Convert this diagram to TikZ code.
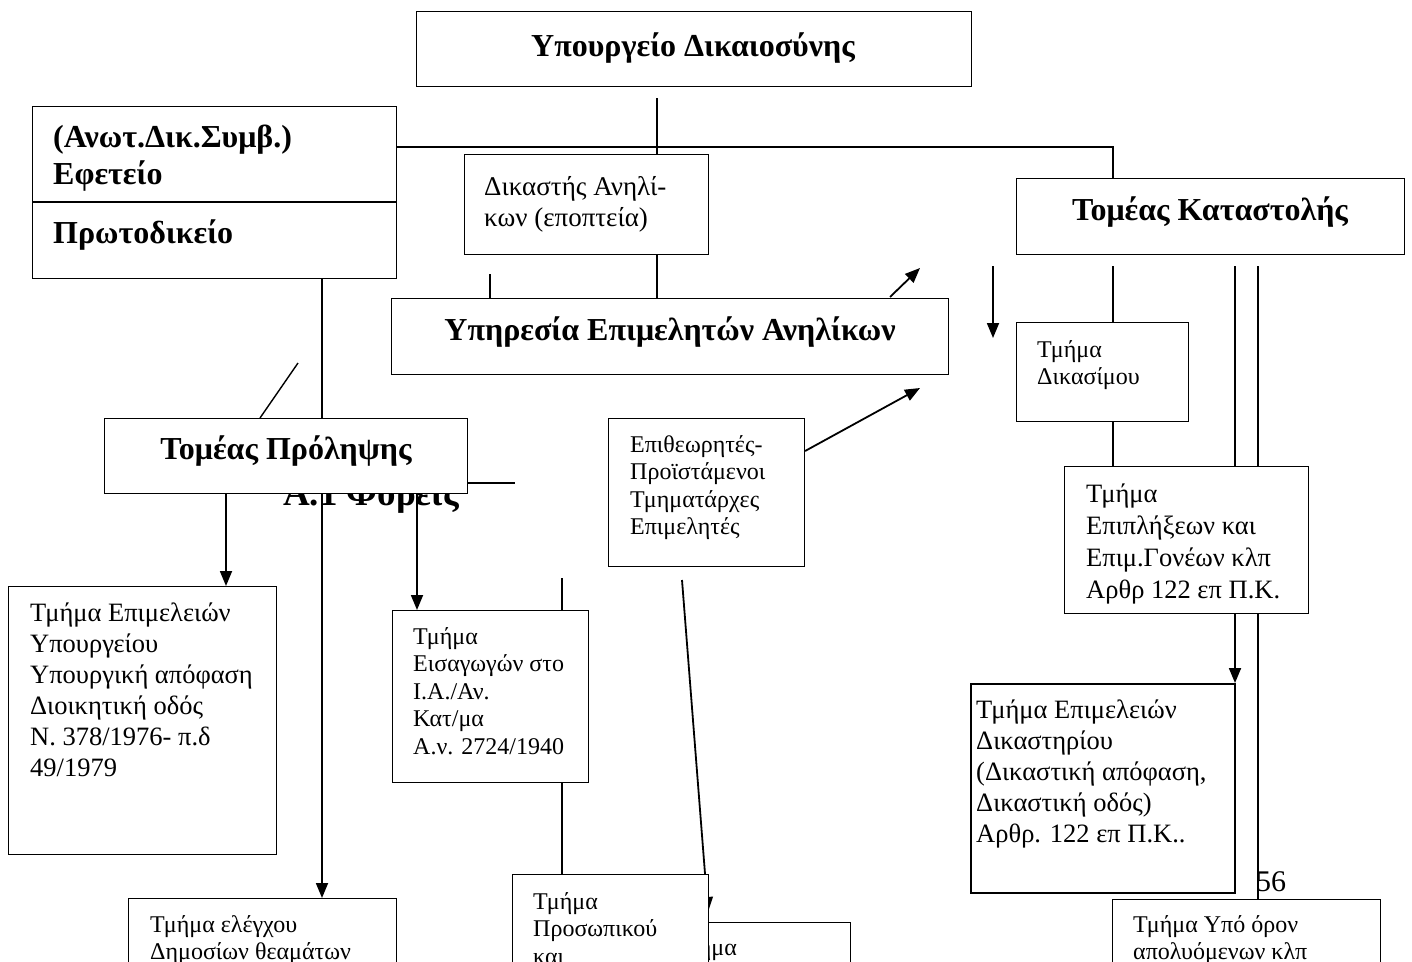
\documentclass[tikz,border=0pt]{standalone}
\usepackage{fontspec}
\setmainfont{Liberation Serif}
\usetikzlibrary{arrows.meta,calc,backgrounds}

\begin{document}
\begin{tikzpicture}[x=1pt, y=-1pt,
  box/.style={draw, line width=1.1pt, fill=white, anchor=north west, inner sep=0pt},
  txt/.style={anchor=north west, align=left, inner sep=0pt, font=\fontsize{24}{27.6}\selectfont},
  bigtxt/.style={txt, font=\fontsize{26.5}{31}\selectfont},
  head/.style={inner sep=0pt, font=\fontsize{32}{36}\selectfont\bfseries},
  conn/.style={line width=1.4pt},
  arr/.style={line width=1.8pt, -{Triangle[length=15pt,width=12pt]}}]

 \useasboundingbox (0,0) rectangle (1412,961);
 \clip (0,0) rectangle (1412,961);

 %heading that sits under the prevention box
 \node[head, font=\fontsize{37}{40}\selectfont\bfseries, anchor=base west] (fore) at (283,505) {Α.1 Φορείς};

 %boxes
 \foreach \nm/\x/\y/\w/\h in {top/416/11/555/75, court/32/106/364/172,
     judge/464/154/244/100, kat/1016/178/388/76, yphr/391/298/557/76,
     dikas/1016/322/172/99, prol/104/418/363/75, epith/608/418/196/148,
     epipl/1064/466/244/147, ypoyrg/8/586/268/268, eisag/392/610/196/172,
     elegx/128/898/268/100, ypo/1112/899/268/100, tmima/652/922/198/80} {
   \node[box, minimum width=\w pt, minimum height=\h pt] (\nm) at (\x,\y) {};
 }
 \node[box, line width=2.4pt, minimum width=264pt, minimum height=209pt] (dikast) at (970,683) {};

 %court box divider
 \draw[line width=1.1pt] ($(court.north west)+(0,96)$) -- ($(court.north east)+(0,96)$);

 %bold headings
 \node[head] (top-t) at (693,48) {Υπουργείο Δικαιοσύνης};
 \node[head, anchor=west] (court-a) at (53,140) {(Ανωτ.Δικ.Συμβ.)};
 \node[head, anchor=west] (court-b) at (53,176) {Εφετείο};
 \node[head, anchor=west] (court-c) at (53,235) {Πρωτοδικείο};
 \node[head] (kat-t) at (1210,212) {Τομέας Καταστολής};
 \node[head] (yphr-t) at (670,332) {Υπηρεσία Επιμελητών Ανηλίκων};
 \node[head] (prol-t) at (286,451) {Τομέας Πρόληψης};

 %plain texts
 \node[bigtxt, font=\fontsize{27}{31}\selectfont] (judge-t) at ($(judge.north west)+(20,22)$) {Δικαστής Ανηλί-\\κων (εποπτεία)};
 \node[txt] (dikas-t) at ($(dikas.north west)+(21,18)$) {Τμήμα\\Δικασίμου};
 \node[txt] (epith-t) at ($(epith.north west)+(22,17)$) {Επιθεωρητές-\\Προϊστάμενοι\\Τμηματάρχες\\Επιμελητές};
 \node[bigtxt, font=\fontsize{26.5}{32}\selectfont] (epipl-t) at ($(epipl.north west)+(22,18)$) {Τμήμα\\Επιπλήξεων και\\Επιμ.Γονέων κλπ\\Αρθρ 122 επ Π.Κ.};
 \node[bigtxt] (ypoyrg-t) at ($(ypoyrg.north west)+(22,17)$) {Τμήμα Επιμελειών\\Υπουργείου\\Υπουργική απόφαση\\Διοικητική οδός\\Ν. 378/1976- π.δ\\49/1979};
 \node[txt] (eisag-t) at ($(eisag.north west)+(21,17)$) {Τμήμα\\Εισαγωγών στο\\Ι.Α./Αν.\\Κατ/μα\\Α.ν. 2724/1940};
 \node[bigtxt] (dikast-t) at ($(dikast.north west)+(6,17)$) {Τμήμα Επιμελειών\\Δικαστηρίου\\(Δικαστική απόφαση,\\Δικαστική οδός)\\Αρθρ. 122 επ Π.Κ..};
 \node[txt] (elegx-t) at ($(elegx.north west)+(22,17)$) {Τμήμα ελέγχου\\Δημοσίων θεαμάτων};
 \node[txt] (ypo-t) at ($(ypo.north west)+(21,16)$) {Τμήμα Υπό όρον\\απολυόμενων κλπ};
 \node[txt] (tmima-t) at ($(tmima.north west)+(20,16)$) {Τμήμα};
 \node[bigtxt, font=\fontsize{30}{32}\selectfont, anchor=center] (page) at (1271,882) {56};

 %connectors, kept under the boxes
 \begin{pgfonlayer}{background}
  \coordinate (m1) at (657,98);
  \coordinate (h1) at (396,147);
  \coordinate (k1) at (1113,147);
  \draw[conn] (m1) -- (m1 |- judge.north);
  \draw[conn] (court.east |- h1) -- (k1) -- (k1 |- kat.north);
  \draw[conn] (judge.south -| m1) -- (yphr.north -| m1);
  \coordinate (s1) at (490,274);
  \draw[conn] (s1) -- (s1 |- yphr.north);

  %arrows to the right
  \coordinate (a1) at (890,297);
  \coordinate (a2) at (920,268);
  \coordinate (a3) at (920,388);
  \draw[arr] (a1) -- (a2);
  \draw[arr] ($(epith.north east)+(0,33)$) -- (a3);

  %under Καταστολής
  \coordinate (d0) at (993,266);
  \coordinate (d1) at (993,338);
  \draw[arr] (d0) -- (d1);
  \coordinate (k2) at (1113,266);
  \draw[conn] (k2) -- (k2 |- dikas.north);
  \draw[conn] (dikas.south -| k2) -- (epipl.north -| k2);
  \coordinate (v1) at (1235,266);
  \coordinate (v2) at (1258,266);
  \draw[conn] (v1) -- (v1 |- epipl.north);
  \draw[conn] (v2) -- (v2 |- epipl.north);
  \draw[arr] (epipl.south -| v1) -- (dikast.north -| v1);
  \draw[conn] (epipl.south -| v2) -- (ypo.north -| v2);

  %left side
  \coordinate (p1) at (322,278);
  \draw[arr] (court.south -| p1) -- (elegx.north -| p1);
  \coordinate (g1) at (298,363);
  \coordinate (g2) at (260,418);
  \draw[conn] (g1) -- (g2);
  \coordinate (p2) at (226,493);
  \coordinate (p3) at (417,493);
  \draw[arr] (prol.south -| p2) -- (ypoyrg.north -| p2);
  \draw[arr] (prol.south -| p3) -- (eisag.north -| p3);
  \coordinate (r1) at (515,483);
  \draw[conn] (prol.east |- r1) -- (r1);

  %middle
  \coordinate (e1) at (562,578);
  \draw[conn] (e1) -- (e1 |- eisag.north);
  \coordinate (t1) at (682,580);
  \coordinate (t2) at (708,912);
  \draw[arr] (t1) -- (t2);
 \end{pgfonlayer}

 %personnel box over the one behind it
 \node[box, minimum width=196pt, minimum height=120pt] (prosop) at (512,874) {};
 \node[txt] (prosop-t) at ($(prosop.north west)+(21,18)$) {Τμήμα\\Προσωπικού\\και};
 \begin{pgfonlayer}{background}
  \draw[conn] (eisag.south -| e1) -- (prosop.north -| e1);
 \end{pgfonlayer}

\end{tikzpicture}
\end{document}
